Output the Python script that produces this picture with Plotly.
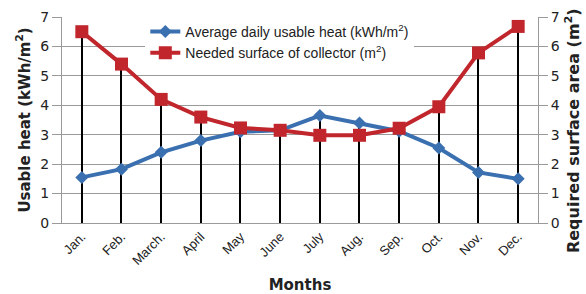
import plotly.graph_objects as go

months = ["Jan.", "Feb.", "March.", "April", "May", "June", "July", "Aug.", "Sep.", "Oct.", "Nov.", "Dec."]
usable_heat = [1.55, 1.83, 2.4, 2.8, 3.1, 3.15, 3.65, 3.4, 3.12, 2.55, 1.72, 1.5]
collector_area = [6.5, 5.4, 4.2, 3.6, 3.23, 3.15, 2.98, 2.98, 3.22, 3.95, 5.78, 6.68]
y_ticks = [0, 1, 2, 3, 4, 5, 6, 7]

drop = [max(a, b) for a, b in zip(usable_heat, collector_area)]

BLUE = "rgb(58,112,176)"
RED = "rgb(192,38,44)"
FONT = "Liberation Sans"

fig = go.Figure()
fig.add_trace(go.Bar(x=months, y=drop, width=0.04, marker=dict(color="black", line=dict(width=0)),
                     showlegend=False, hoverinfo="skip"))
fig.add_trace(go.Scatter(x=months, y=usable_heat, mode="lines+markers",
                         name="Average daily usable heat (kWh/m<sup>2</sup>)",
                         line=dict(color=BLUE, width=4),
                         marker=dict(symbol="diamond", size=10, color=BLUE)))
fig.add_trace(go.Scatter(x=months, y=collector_area, mode="lines+markers",
                         name="Needed surface of collector (m<sup>2</sup>)",
                         line=dict(color=RED, width=4),
                         marker=dict(symbol="square", size=13, color=RED),
                         yaxis="y2"))

fig.add_annotation(text="<b>Required surface area (m<sup>2</sup>)</b>", textangle=-90,
                   xref="paper", yref="paper", x=1.073, y=0.45, xanchor="center", yanchor="middle",
                   showarrow=False, font=dict(family="DejaVu Sans", size=16, color="#222"))

fig.update_layout(
    width=586, height=294,
    margin=dict(l=62, r=48, t=17, b=71, autoexpand=False),
    paper_bgcolor="white", plot_bgcolor="white",
    font=dict(family=FONT, size=13, color="#222"),
    showlegend=True,
    legend=dict(x=0.175, y=1.005, xanchor="left", yanchor="top", bgcolor="white",
                font=dict(family=FONT, size=14, color="#222"), tracegroupgap=0,
                itemwidth=30),
    xaxis=dict(range=[-0.5, 11.5], tickangle=-45, showgrid=False, showline=True,
               linecolor="#999", linewidth=1, ticks="", automargin=False,
               tickfont=dict(family=FONT, size=13, color="#222"),
               title=dict(text="<b>Months</b>", font=dict(family="DejaVu Sans", size=15, color="#222"),
                          standoff=14)),
    yaxis=dict(range=[0, 7], tickvals=y_ticks, showgrid=True, gridcolor="#9a9a9a", gridwidth=1,
               showline=True, linecolor="#999", ticks="outside", ticklen=9, tickcolor="#9a9a9a",
               zeroline=False, automargin=False,
               tickfont=dict(family="DejaVu Sans", size=14, color="#222"),
               title=dict(text="<b>Usable heat (kWh/m<sup>2</sup>)</b>",
                          font=dict(family="DejaVu Sans", size=15, color="#222"), standoff=6)),
    yaxis2=dict(range=[0, 7], tickvals=y_ticks, overlaying="y", side="right", showgrid=False,
                showline=True, linecolor="#999", ticks="outside", ticklen=9, tickcolor="#9a9a9a",
                zeroline=False, automargin=False,
                tickfont=dict(family="DejaVu Sans", size=14, color="#222")),
    bargap=0,
)

fig.write_html("out.html", config={"displayModeBar": False},
               post_script="document.body.style.margin='0px';")
